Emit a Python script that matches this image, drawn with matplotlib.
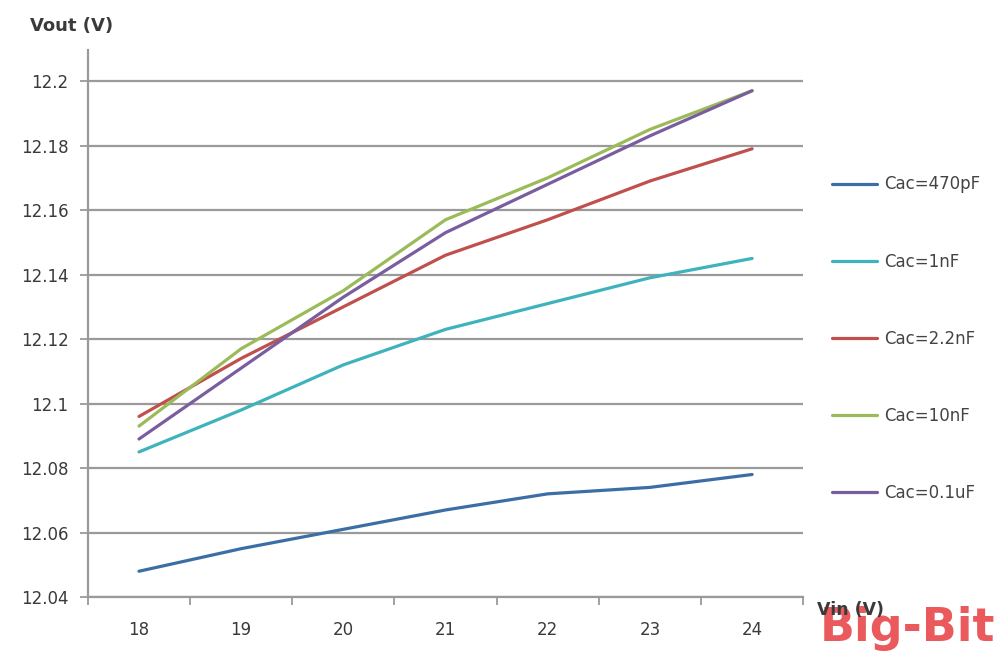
import numpy as np
import matplotlib
matplotlib.use("Agg")
import matplotlib.pyplot as plt

# === DATA ===
VIN = [18, 19, 20, 21, 22, 23, 24]
LABELS = ["Cac=470pF", "Cac=1nF", "Cac=2.2nF", "Cac=10nF", "Cac=0.1uF"]
V_470PF = [12.048, 12.055, 12.061, 12.067, 12.072, 12.074, 12.078]
V_1NF = [12.085, 12.098, 12.112, 12.123, 12.131, 12.139, 12.145]
V_2N2F = [12.096, 12.114, 12.130, 12.146, 12.157, 12.169, 12.179]
V_10NF = [12.093, 12.117, 12.135, 12.157, 12.170, 12.185, 12.197]
V_100NF = [12.089, 12.111, 12.133, 12.153, 12.168, 12.183, 12.197]
Y_TICKS = [12.04, 12.06, 12.08, 12.1, 12.12, 12.14, 12.16, 12.18, 12.2]
Y_TICK_LABELS = ["12.04", "12.06", "12.08", "12.1", "12.12", "12.14", "12.16", "12.18", "12.2"]

COLORS = ["#3b6ea5", "#3fb3bd", "#c0504d", "#9bbb59", "#7a5d9e"]
GRID = "#9a9a9a"
TXT = "#3a3a3a"

plt.rcParams["font.family"] = ["DejaVu Sans"]

fig = plt.figure(figsize=(9.99, 6.55), dpi=100)
ax = fig.add_axes([0.088, 0.0885, 0.716, 0.835])

series = [V_470PF, V_1NF, V_2N2F, V_10NF, V_100NF]
x = np.arange(len(VIN))
for vals, lab, col in zip(series, LABELS, COLORS):
    ax.plot(x, vals, color=col, linewidth=2.3, label=lab, solid_capstyle="round")

ax.set_xlim(-0.5, len(VIN) - 0.5)
ax.set_ylim(12.04, 12.2096)
ax.set_yticks(Y_TICKS)
ax.set_yticklabels(Y_TICK_LABELS)
ax.set_xticks(x)
ax.set_xticklabels([str(v) for v in VIN])
# category boundary ticks on x axis (Excel style)
ax.set_xticks(np.arange(len(VIN) + 1) - 0.5, minor=True)
ax.tick_params(axis="x", which="major", length=0, pad=17, labelsize=12, colors=TXT)
ax.tick_params(axis="x", which="minor", length=6, direction="out", color=GRID, width=1.3)
ax.tick_params(axis="y", length=6, direction="out", color=GRID, width=1.3,
               pad=8, labelsize=12, colors=TXT)

ax.yaxis.grid(True, color=GRID, linewidth=1.6)
ax.set_axisbelow(True)
for side in ["top", "right"]:
    ax.spines[side].set_visible(False)
for side in ["left", "bottom"]:
    ax.spines[side].set_color(GRID)
    ax.spines[side].set_linewidth(1.6)

fig.text(0.03, 0.96, "Vout (V)", fontsize=13, fontweight="bold", color=TXT, va="center")

ax.legend(loc="upper left", bbox_to_anchor=(0.818, 0.755), bbox_transform=fig.transFigure,
          frameon=False, fontsize=12, handlelength=2.7, handletextpad=0.4,
          labelspacing=3.55, labelcolor="#444444")

fig.text(0.821, 0.04, "Big-Bit", fontsize=33, fontweight="bold", color="#e8474a",
         va="center", alpha=0.9)
fig.text(0.818, 0.068, "Vin (V)", fontsize=12.5, fontweight="bold", color=TXT,
         va="center", zorder=5)

fig.savefig("out.png", dpi=100, facecolor="white")
